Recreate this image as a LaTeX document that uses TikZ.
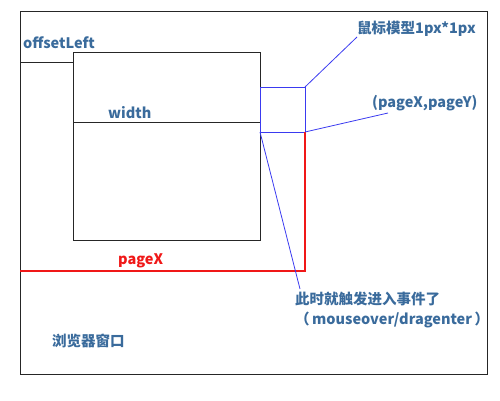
\documentclass[tikz,border=0pt]{standalone}
\usepackage{fontspec}
\setmainfont{Noto Sans CJK SC}
\usetikzlibrary{positioning,calc}
\definecolor{lblblue}{HTML}{3A6B9C}
\definecolor{ptrblue}{HTML}{3A3AF0}
\definecolor{pxred}{HTML}{F01818}
\tikzset{
  frm/.style={rectangle,draw=black!85,line width=1pt,inner sep=0pt,outer sep=0pt,anchor=north west},
  ptr/.style={draw=ptrblue,line width=0.8pt},
  lbl/.style={text=lblblue,inner sep=0pt,font=\fontsize{14.5}{20}\selectfont\bfseries,align=left},
}
\begin{document}
\begin{tikzpicture}[x=1pt,y=-1pt]
  \useasboundingbox (0,0) rectangle (500,400);
  % window and element
  \node[frm,minimum width=467pt,minimum height=363pt] (win) at (20,11) {};
  \node[frm,minimum width=187pt,minimum height=188pt] (box) at (73,52) {};
  \node[frm,draw=ptrblue,line width=0.8pt,minimum width=45pt,minimum height=45pt] (mouse) at (260,87) {};
  \coordinate (ol) at (20,62);
  \coordinate (wd) at (73,122);
  \coordinate (pxend) at (20,271);
  \draw[line width=1pt,black!85] (ol) -- (ol -| box.west);
  \draw[line width=1pt,black!85] (wd) -- (wd -| box.east);
  \draw[color=pxred,line width=1.1pt] (mouse.south east) -- (mouse.south east |- pxend) -- (pxend);
  % labels
  \node[lbl,anchor=south west] (offl) at (23,49) {offsetLeft};
  \node[lbl,anchor=south west] (wdt) at (108,119) {width};
  \node[lbl,anchor=south west,text=pxred] (pgx) at (118,268) {pageX};
  \node[lbl,anchor=south west] (model) at (357,37) {鼠标模型1px*1px};
  \node[lbl,anchor=south west] (pxy) at (372,111) {(pageX,pageY)};
  \node[lbl,anchor=north west] (ev) at (295,292) {此时就触发进入事件了\\（\,mouseover/dragenter\,）};
  \node[lbl,anchor=south west] (winl) at (52,348) {浏览器窗口};
  % pointers
  \draw[ptr] (mouse.north east) -- (model.south west);
  \draw[ptr] (mouse.south east) -- ($(pxy.south west)+(16,2)$);
  \draw[ptr] (mouse.south west) -- ($(ev.north west)+(5,-3)$);
\end{tikzpicture}
\end{document}
